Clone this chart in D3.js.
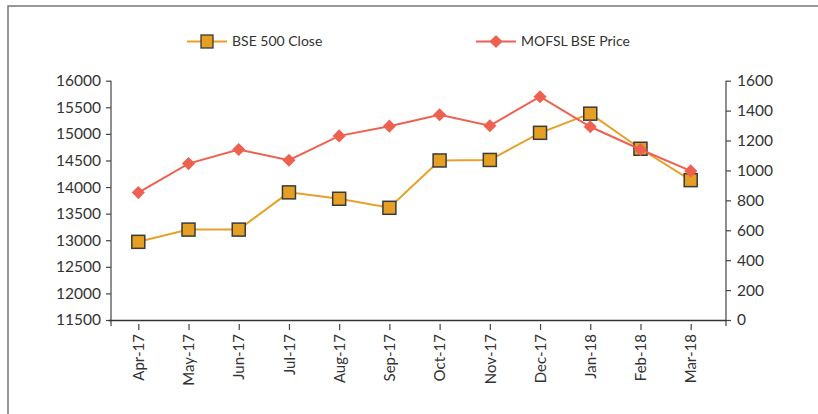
<!DOCTYPE html>
<html>
<head>
<meta charset="utf-8">
<script src="https://cdn.jsdelivr.net/npm/d3@7"></script>
<style>
  body { margin: 0; background: #fff; }
  text { font-family: Lato, "Open Sans", sans-serif; fill: #333; }
</style>
</head>
<body>
<div id="chart"></div>
<script>
// data
var months = ["Apr-17", "May-17", "Jun-17", "Jul-17", "Aug-17", "Sep-17",
              "Oct-17", "Nov-17", "Dec-17", "Jan-18", "Feb-18", "Mar-18"];
var bse500 = [12970, 13200, 13200, 13900, 13780, 13610, 14500, 14510, 15020, 15380, 14720, 14130];
var mofsl = [852, 1046, 1140, 1068, 1231, 1296, 1372, 1299, 1493, 1292, 1140, 997];
var leftTicks = [11500, 12000, 12500, 13000, 13500, 14000, 14500, 15000, 15500, 16000];
var rightTicks = [0, 200, 400, 600, 800, 1000, 1200, 1400, 1600];

var svgWidth = 818, svgHeight = 414;
var orange = "#e8a028", red = "#ee6150";

var svg = d3.select("#chart").append("svg")
    .attr("width", svgWidth).attr("height", svgHeight);

// frame
svg.append("path")
    .attr("d", "M8,414 V6 H818")
    .attr("fill", "none").attr("stroke", "#777").attr("stroke-width", 1.5);

var x0 = 111, x1 = 726, yTop = 80.7, yBot = 320;

var x = d3.scalePoint().domain(months).range([138.3, 690.7]);
var yL = d3.scaleLinear().domain([11500, 16000]).range([yBot, yTop]);
var yR = d3.scaleLinear().domain([0, 1600]).range([yBot, yTop]);

// left axis
var leftAxis = d3.axisLeft(yL).tickValues(leftTicks).tickFormat(d3.format("d")).tickSize(5).tickPadding(5);
var gl = svg.append("g").attr("transform", `translate(${x0},0)`).call(leftAxis);
gl.select(".domain").attr("d", `M0,${yTop}V${yBot + 6}`);

// right axis
var rightAxis = d3.axisRight(yR).tickValues(rightTicks).tickFormat(d3.format("d")).tickSize(5).tickPadding(6);
var gr = svg.append("g").attr("transform", `translate(${x1},0)`).call(rightAxis);
gr.select(".domain").attr("d", `M0,${yTop}V${yBot + 6}`);

[gl, gr].forEach(function(g) {
    g.selectAll("text").style("font-size", "15.5px").attr("fill", "#333");
    g.selectAll("line, .domain").attr("stroke", "#444").attr("stroke-width", 1.2);
});

// bottom axis
svg.append("line")
    .attr("x1", x0 - 2).attr("x2", x1)
    .attr("y1", yBot + 0.5).attr("y2", yBot + 0.5)
    .attr("stroke", "#333").attr("stroke-width", 1.3);

var bottomAxis = d3.axisBottom(x).tickSize(6).tickPadding(4);
var gb = svg.append("g").attr("transform", `translate(0,${yBot + 4})`).call(bottomAxis);
gb.select(".domain").remove();
gb.selectAll("line").attr("stroke", "#444").attr("stroke-width", 1.2);
gb.selectAll("text")
    .style("font-size", "15px")
    .attr("fill", "#333")
    .attr("transform", "rotate(-90)")
    .attr("text-anchor", "end")
    .attr("x", -10).attr("y", 0).attr("dy", "0.35em");

// BSE 500 line
var lineL = d3.line().x(function(d, i) { return x(months[i]); }).y(function(d) { return yL(d); });
svg.append("path").datum(bse500)
    .attr("d", lineL).attr("fill", "none")
    .attr("stroke", orange).attr("stroke-width", 2);

var sq = 13;
svg.selectAll(".sq").data(bse500).enter().append("rect")
    .attr("class", "sq")
    .attr("x", function(d, i) { return x(months[i]) - sq / 2; })
    .attr("y", function(d) { return yL(d) - sq / 2; })
    .attr("width", sq).attr("height", sq)
    .attr("fill", "#e59f22").attr("stroke", "#3a3a3a").attr("stroke-width", 1.5);

// MOFSL line
var lineR = d3.line().x(function(d, i) { return x(months[i]); }).y(function(d) { return yR(d); });
svg.append("path").datum(mofsl)
    .attr("d", lineR).attr("fill", "none")
    .attr("stroke", red).attr("stroke-width", 2);

var diamond = d3.symbol().type(d3.symbolDiamond2).size(110);
svg.selectAll(".dm").data(mofsl).enter().append("path")
    .attr("class", "dm")
    .attr("d", diamond)
    .attr("transform", function(d, i) { return `translate(${x(months[i])},${yR(d)})`; })
    .attr("fill", red);

// legend
var lg1 = svg.append("g").attr("transform", "translate(187,41.5)");
lg1.append("line").attr("x1", 0).attr("x2", 40).attr("stroke", orange).attr("stroke-width", 2);
lg1.append("rect").attr("x", 20 - 6).attr("y", -6.5).attr("width", 12).attr("height", 13)
    .attr("fill", "#e59f22").attr("stroke", "#3a3a3a").attr("stroke-width", 1.3);
lg1.append("text").attr("x", 45).attr("dy", "0.35em").style("font-size", "14px").text("BSE 500 Close");

var lg2 = svg.append("g").attr("transform", "translate(476,41.5)");
lg2.append("line").attr("x1", 0).attr("x2", 40).attr("stroke", red).attr("stroke-width", 2);
lg2.append("path").attr("d", diamond).attr("transform", "translate(20,0)").attr("fill", red);
lg2.append("text").attr("x", 45).attr("dy", "0.35em").style("font-size", "14px").text("MOFSL BSE Price");
</script>
</body>
</html>
